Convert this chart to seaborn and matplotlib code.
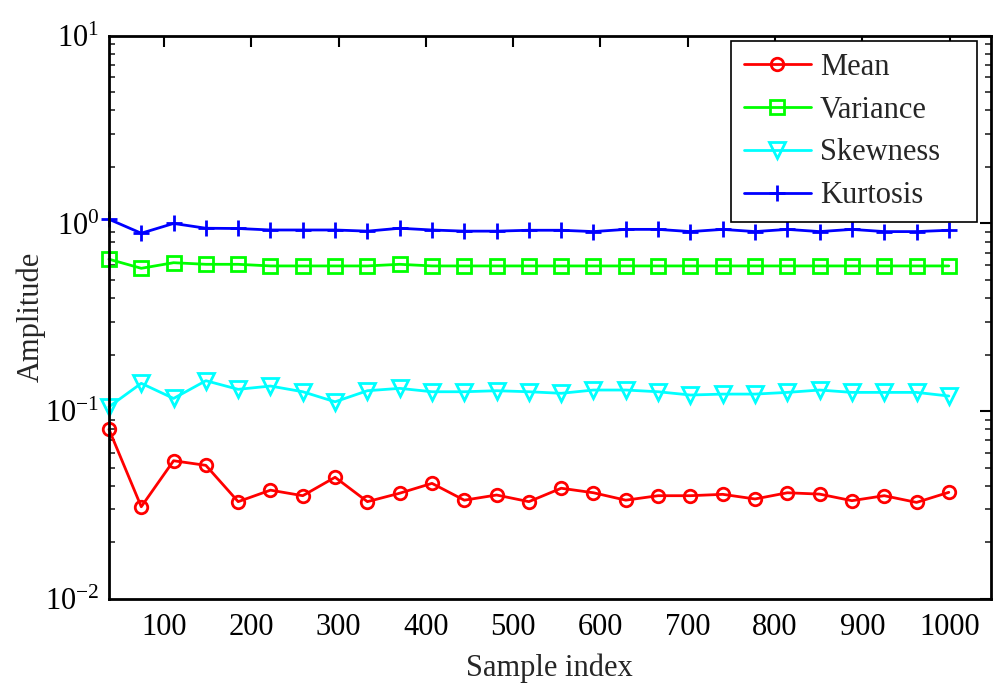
import numpy as np
import pandas as pd
import matplotlib
matplotlib.use("Agg")
import matplotlib.pyplot as plt
import seaborn as sns
from matplotlib.ticker import LogLocator, FixedLocator, NullFormatter

# Sample positions (every 37 samples)
sample_index = [37, 74, 111, 148, 185, 222, 259, 296, 333, 370, 407, 444, 481, 518,
                555, 592, 629, 666, 703, 740, 777, 814, 851, 888, 925, 962, 999]

mean_vals = [0.0801, 0.0310, 0.0545, 0.0515, 0.0330, 0.0380, 0.0355, 0.0445, 0.0330,
             0.0366, 0.0413, 0.0336, 0.0358, 0.0330, 0.0389, 0.0368, 0.0336, 0.0355,
             0.0355, 0.0361, 0.0341, 0.0368, 0.0362, 0.0334, 0.0355, 0.0327, 0.0370]

variance_vals = [0.645, 0.577, 0.618, 0.606, 0.606, 0.594, 0.594, 0.594, 0.594, 0.606,
                 0.594, 0.594, 0.594, 0.594, 0.594, 0.594, 0.594, 0.594, 0.594, 0.594,
                 0.594, 0.594, 0.594, 0.594, 0.594, 0.594, 0.594]

skewness_vals = [0.1056, 0.1408, 0.1170, 0.1454, 0.1308, 0.1362, 0.1270, 0.1123, 0.1286,
                 0.1324, 0.1270, 0.1270, 0.1286, 0.1270, 0.1246, 0.1297, 0.1297, 0.1270,
                 0.1220, 0.1234, 0.1234, 0.1260, 0.1297, 0.1260, 0.1260, 0.1260, 0.1205]

kurtosis_vals = [1.053, 0.887, 1.000, 0.943, 0.940, 0.923, 0.923, 0.923, 0.910, 0.943,
                 0.923, 0.910, 0.910, 0.920, 0.920, 0.905, 0.930, 0.930, 0.905, 0.930,
                 0.905, 0.930, 0.905, 0.930, 0.905, 0.905, 0.920]

series_names = ["Mean", "Variance", "Skewness", "Kurtosis"]
series_colors = ["#ff0000", "#00ff00", "#00ffff", "#0000ff"]
series_markers = ["o", "s", "v", "+"]
series_msizes = [9, 9.5, 11, 11]
series_values = [mean_vals, variance_vals, skewness_vals, kurtosis_vals]

sns.set_theme(style="white")
plt.rcParams["font.family"] = ["Liberation Serif", "DejaVu Serif"]
plt.rcParams["mathtext.fontset"] = "custom"
plt.rcParams["mathtext.rm"] = "Liberation Serif"
plt.rcParams["mathtext.it"] = "Liberation Serif:italic"
plt.rcParams["mathtext.bf"] = "Liberation Serif:bold"

fig = plt.figure(figsize=(9.96, 6.98), dpi=100)
ax = fig.add_axes([0.1094, 0.1418, 0.8853, 0.8071])

for name, color, marker, ms, vals in zip(series_names, series_colors, series_markers,
                                         series_msizes, series_values):
    df = pd.DataFrame({"Sample index": sample_index, "Amplitude": vals})
    sns.lineplot(data=df, x="Sample index", y="Amplitude", ax=ax, color=color,
                 marker=marker, markersize=ms,
                 markerfacecolor="none", markeredgecolor=color, markeredgewidth=2.0,
                 linewidth=2.0, label=name, clip_on=False)

ax.set_yscale("log")
ax.set_ylim(1e-2, 1e1)
ax.set_xlim(37, 1047)

ax.xaxis.set_major_locator(FixedLocator([100, 200, 300, 400, 500, 600, 700, 800, 900, 1000]))
ax.yaxis.set_major_locator(LogLocator(base=10, numticks=10))
ax.yaxis.set_minor_locator(LogLocator(base=10, subs=np.arange(2, 10), numticks=10))
ax.yaxis.set_minor_formatter(NullFormatter())

ax.tick_params(axis="both", which="major", direction="in", length=8, width=1.5,
               top=True, right=True, labelsize=22, colors="black")
ax.tick_params(axis="x", which="major", pad=10)
ax.tick_params(axis="y", which="major", pad=7)
ax.tick_params(axis="y", which="minor", direction="in", length=4, width=1.2,
               left=True, right=True)

for sp in ax.spines.values():
    sp.set_visible(True)
    sp.set_color("black")
    sp.set_linewidth(2.0)

ax.set_xlabel("Sample index", fontsize=22, labelpad=8)
ax.set_ylabel("Amplitude", fontsize=22, labelpad=-1)

# Legend box stretched to a fixed width, text left-aligned inside
leg = ax.legend(loc="upper left", bbox_to_anchor=(0.706, 0.6746, 0.278, 0.3164),
                mode="expand", borderaxespad=0,
                fontsize=22, handlelength=2.2, labelspacing=0.45, handletextpad=0.3,
                borderpad=0.4, fancybox=False, framealpha=1)
leg.get_frame().set_edgecolor("black")
leg.get_frame().set_linewidth(1.2)

fig.savefig("out.png", dpi=100, facecolor="white")
